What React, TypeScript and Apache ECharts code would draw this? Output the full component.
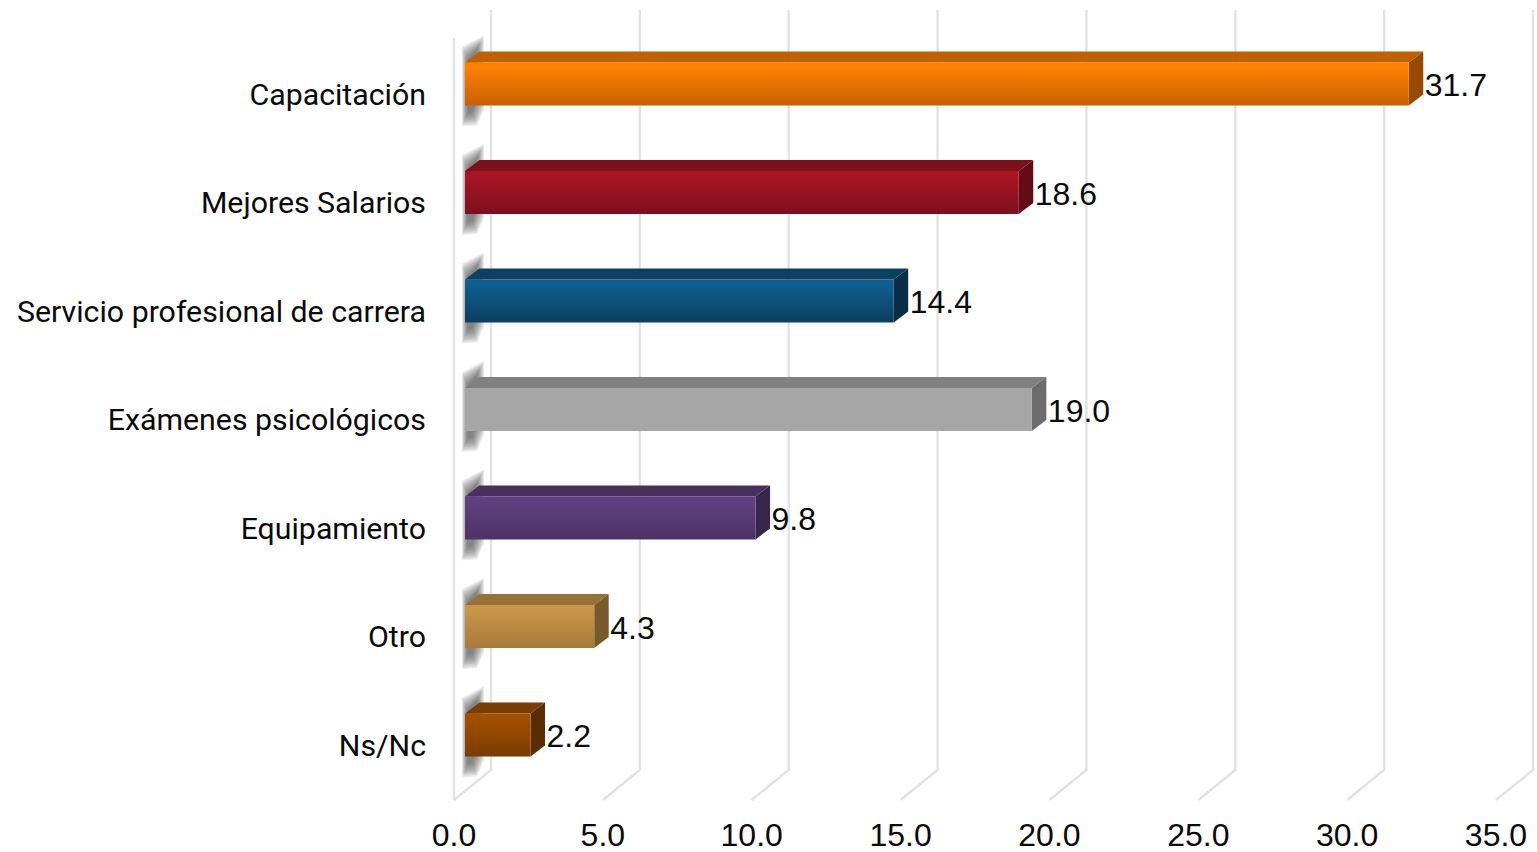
import React, { useEffect, useRef } from "react";
import * as echarts from "echarts";

const categories = ["Capacitación", "Mejores Salarios", "Servicio profesional de carrera", "Exámenes psicológicos", "Equipamiento", "Otro", "Ns/Nc"];
const values = [31.7, 18.6, 14.4, 19.04, 9.76, 4.34, 2.2];
const ticks = [0, 5, 10, 15, 20, 25, 30, 35];
const frontTop = ["#ff8000", "#a81526", "#0f5f8f", "#a6a6a6", "#604080", "#c9964c", "#a34f00"];
const frontBottom = ["#c76000", "#7e0f1c", "#0a3f60", "#a6a6a6", "#4c3266", "#a67a38", "#7a3b00"];
const topFace = ["#c06000", "#7e101c", "#0b4060", "#808080", "#47305f", "#977135", "#7a3c00"];
const sideFace = ["#974a00", "#630c16", "#082f48", "#6c6c6c", "#38264c", "#775a2a", "#5a2c00"];

const FONT = "Roboto";
const NUM_FONT = "Liberation Sans";
const FRONT_X = 11, FRONT_Y = -10, BAR_H = 43, DX = 14.5, DY = -11;
const WALL_DX = 37, WALL_DY = -30, FLOOR_Y = 800, WALL_TOP = 38;
const WALL = { stroke: "#e2e2e2", lineWidth: 2.4, fill: "none" };
const SHADOW_LAYERS = [0, 1, 2, 3, 4, 5, 6, 7, 8, 9];

function renderWall(_: any, api: any) {
  const p = api.coord([api.value(0), 0]);
  const x = p[0];
  const children: any[] = [
    { type: "polyline", shape: { points: [[x, FLOOR_Y], [x + WALL_DX, FLOOR_Y + WALL_DY], [x + WALL_DX, WALL_TOP + WALL_DY + 2]] }, style: WALL },
  ];
  if (api.value(0) === 0) {
    children.push({ type: "line", shape: { x1: x, y1: WALL_TOP, x2: x, y2: FLOOR_Y }, style: { stroke: "#e2e2e2", lineWidth: 2.4 } });
  }
  return { type: "group", children };
}

function renderShadow(_: any, api: any) {
  const p = api.coord([0, api.value(1)]);
  const x = p[0] + FRONT_X, y = p[1] + FRONT_Y - BAR_H / 2, b = y + BAR_H;
  return {
    type: "group",
    children: SHADOW_LAYERS.map((k) => ({
      type: "polygon",
      shape: { points: [[x - 3 + k * 0.6, y - 16 + k * 1.5], [x + 19 - k * 0.8, y - 27 + k * 1.5], [x + 19 - k * 0.8, b + 4 - k * 1.5], [x + 12 - k * 0.5, b + 20 - k * 1.5], [x - 3 + k * 0.6, b + 21 - k * 1.5]] },
      style: { fill: "rgba(85,85,85,0.11)" },
    })),
  };
}

function renderBar(params: any, api: any) {
  const i = params.dataIndex;
  const start = api.coord([0, api.value(1)]);
  const end = api.coord([api.value(0), api.value(1)]);
  const x0 = start[0] + FRONT_X, x1 = end[0] + FRONT_X;
  const y0 = start[1] + FRONT_Y - BAR_H / 2, y1 = y0 + BAR_H;
  return {
    type: "group",
    children: [
      { type: "polygon", shape: { points: [[x0, y0], [x0 + DX, y0 + DY], [x1 + DX, y0 + DY], [x1, y0]] }, style: { fill: topFace[i] } },
      { type: "polygon", shape: { points: [[x1, y0], [x1 + DX, y0 + DY], [x1 + DX, y1 + DY], [x1, y1]] }, style: { fill: sideFace[i] } },
      {
        type: "rect", shape: { x: x0, y: y0, width: x1 - x0, height: BAR_H },
        style: { fill: new echarts.graphic.LinearGradient(0, 0, 0, 1, [{ offset: 0.12, color: frontTop[i] }, { offset: 1, color: frontBottom[i] }]) },
      },
      {
        type: "text", x: x1 + 16, y: y0 + BAR_H / 2 + 1,
        style: { text: api.value(0).toFixed(1), font: `32px "${NUM_FONT}"`, fill: "#0a0a0a", textAlign: "left", textVerticalAlign: "middle" },
      },
    ],
  };
}

export default function App() {
  const ref = useRef<HTMLDivElement>(null);
  useEffect(() => {
    const chart = echarts.init(ref.current!, undefined, { renderer: "svg" });
    const barData = values.map((v, i) => [v, categories[i]]);
    chart.setOption({
      animation: false,
      backgroundColor: "#ffffff",
      grid: { left: 454, top: 39.75, width: 1042, height: 759.5, containLabel: false, outerBoundsMode: "none" },
      xAxis: {
        type: "value", min: 0, max: 35, interval: 5,
        axisLine: { show: false }, axisTick: { show: false }, splitLine: { show: false },
        axisLabel: { formatter: (v: number) => v.toFixed(1), fontFamily: NUM_FONT, fontSize: 32, lineHeight: 28, color: "#0a0a0a", margin: 22, hideOverlap: false },
      },
      yAxis: {
        type: "category", inverse: true, data: categories,
        axisLine: { show: false }, axisTick: { show: false }, splitLine: { show: false },
        axisLabel: { fontFamily: FONT, fontSize: 30.3, color: "#0a0a0a", margin: 28, interval: 0 },
      },
      series: [
        { type: "custom", renderItem: renderWall, data: ticks.map((t) => [t]), encode: { x: 0 }, clip: false, silent: true, z: 1 },
        { type: "custom", renderItem: renderShadow, data: barData, encode: { x: 0, y: 1 }, clip: false, silent: true, z: 2 },
        { type: "custom", renderItem: renderBar, data: barData, encode: { x: 0, y: 1 }, clip: false, z: 3 },
      ],
    });
    return () => chart.dispose();
  }, []);
  return <div ref={ref} style={{ position: "absolute", left: 0, top: 0, width: 1537, height: 852 }} />;
}
